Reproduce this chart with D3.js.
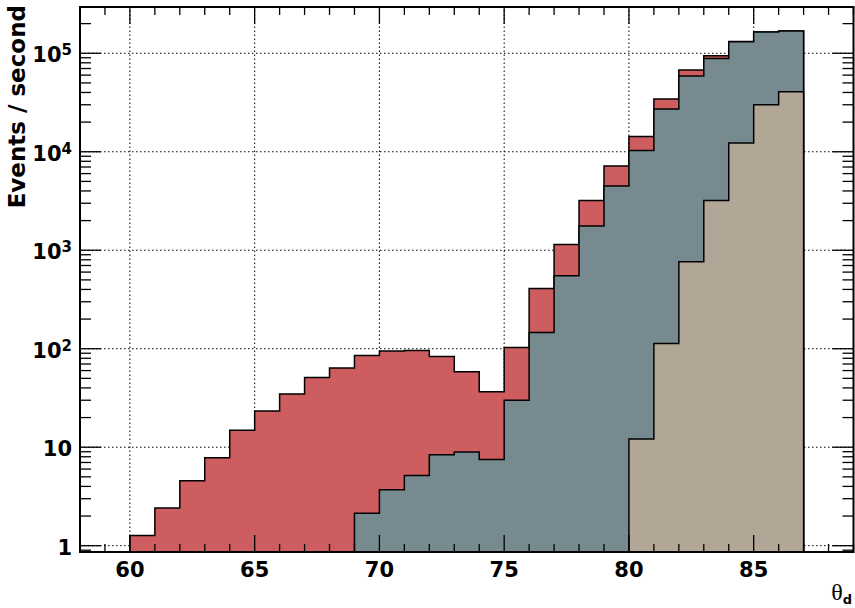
<!DOCTYPE html>
<html>
<head>
<meta charset="utf-8">
<script src="https://cdn.jsdelivr.net/npm/d3@7"></script>
<style>
  body { margin: 0; background: #fff; }
  svg { display: block; }
</style>
</head>
<body>
<div id="chart"></div>
<script>
// bin low edges (width 1 degree)
var bins = [60, 61, 62, 63, 64, 65, 66, 67, 68, 69, 70, 71, 72, 73,
            74, 75, 76, 77, 78, 79, 80, 81, 82, 83, 84, 85, 86];

// total rate (red)
var total = [1.27, 2.41, 4.57, 7.82, 14.9, 23.3, 34.7, 51.1, 63.7, 85.5,
             94.8, 96.1, 83.5, 58.4, 36.6, 103, 410, 1145, 3205, 7160,
             14300, 34300, 67500, 94400, 132000, 164000, 168000];

// middle component (grey-blue)
var middle = [null, null, null, null, null, null, null, null, null, 2.13,
              3.70, 5.17, 8.39, 8.94, 7.52, 29.9, 146, 551, 1762, 4490,
              10300, 27150, 58700, 88700, 131000, 164000, 168000];

// inner component (tan)
var inner = [null, null, null, null, null, null, null, null, null, null,
             null, null, null, null, null, null, null, null, null, null,
             12.1, 113, 764, 3200, 12250, 30000, 40700];

var xTicks = [60, 65, 70, 75, 80, 85];
var yTicks = [1, 10, 100, 1000, 10000, 100000];
var yTickLabels = [['1', ''], ['10', ''], ['10', '2'], ['10', '3'], ['10', '4'], ['10', '5']];

var w = 855, h = 608;
// note: "top" is taken by window.top, so use a prefix
var padL = 80, padR = 853.5, padT = 7, padB = 552;

var x = d3.scaleLinear().domain([58, 89]).range([padL, padR]);
var y = d3.scaleLog().domain([0.863, 2.95e5]).range([padB, padT]);

var svg = d3.select('#chart').append('svg')
  .attr('width', w).attr('height', h);

// grid (behind histograms)
var grid = svg.append('g')
  .attr('stroke', '#000')
  .attr('stroke-width', 1)
  .attr('stroke-dasharray', '1.5,2.5');

grid.selectAll('line.gx')
  .data(xTicks)
  .enter()
  .append('line')
  .attr('x1', function(d) { return x(d); })
  .attr('x2', function(d) { return x(d); })
  .attr('y1', padB)
  .attr('y2', padT);

grid.selectAll('line.gy')
  .data(yTicks)
  .enter()
  .append('line')
  .attr('x1', padL)
  .attr('x2', padR)
  .attr('y1', function(d) { return y(d); })
  .attr('y2', function(d) { return y(d); });

function histPath(values) {
  var pts = [];
  var first = null, last = null;
  values.forEach(function(v, i) {
    if (v == null) return;
    if (first === null) first = i;
    last = i;
    pts.push([x(bins[i]), y(v)]);
    pts.push([x(bins[i] + 1), y(v)]);
  });
  var p = 'M' + x(bins[first]) + ',' + padB;
  pts.forEach(function(q) { p += 'L' + q[0] + ',' + q[1]; });
  p += 'L' + x(bins[last] + 1) + ',' + padB;
  return p;
}

var hists = [
  { values: total, fill: '#cd5d5f' },
  { values: middle, fill: '#768a90' },
  { values: inner, fill: '#b2a696' }
];

svg.selectAll('path.hist')
  .data(hists)
  .enter()
  .append('path')
  .attr('class', 'hist')
  .attr('d', function(d) { return histPath(d.values); })
  .attr('fill', function(d) { return d.fill; })
  .attr('stroke', '#000')
  .attr('stroke-width', 1.5)
  .attr('stroke-linejoin', 'miter');

// ticks on all four sides
var ticks = svg.append('g').attr('stroke', '#000').attr('stroke-width', 1.3);
var xMinor = d3.range(58, 90);
xMinor.forEach(function(v) {
  var len = (v % 5 === 0) ? 17 : 8;
  ticks.append('line')
    .attr('x1', x(v)).attr('x2', x(v))
    .attr('y1', padB).attr('y2', padB - len);
  ticks.append('line')
    .attr('x1', x(v)).attr('x2', x(v))
    .attr('y1', padT).attr('y2', padT + len);
});

var yAll = [];
[0.1, 1, 10, 100, 1000, 10000, 100000].forEach(function(dec) {
  for (var k = 1; k < 10; k++) {
    var v = dec * k;
    if (v >= y.domain()[0] && v <= y.domain()[1]) yAll.push({ v: v, major: k === 1 });
  }
});
yAll.forEach(function(t) {
  var len = t.major ? 21 : 11;
  ticks.append('line')
    .attr('x1', padL).attr('x2', padL + len)
    .attr('y1', y(t.v)).attr('y2', y(t.v));
  ticks.append('line')
    .attr('x1', padR).attr('x2', padR - len)
    .attr('y1', y(t.v)).attr('y2', y(t.v));
});

// frame
svg.append('rect')
  .attr('x', padL).attr('y', padT)
  .attr('width', padR - padL).attr('height', padB - padT)
  .attr('fill', 'none')
  .attr('stroke', '#000')
  .attr('stroke-width', 2);

// x tick labels
svg.selectAll('text.xl')
  .data(xTicks)
  .enter()
  .append('text')
  .text(function(d) { return d; })
  .attr('x', function(d) { return x(d); })
  .attr('y', 577)
  .attr('text-anchor', 'middle')
  .attr('font-family', 'DejaVu Sans')
  .attr('font-weight', 'bold')
  .attr('font-size', '21px');

// y tick labels
var yl = svg.selectAll('text.yl')
  .data(yTicks)
  .enter()
  .append('text')
  .attr('x', 72)
  .attr('y', function(d) { return y(d) + 9; })
  .attr('text-anchor', 'end')
  .attr('font-family', 'DejaVu Sans')
  .attr('font-weight', 'bold')
  .attr('font-size', '21px');

yl.append('tspan')
  .text(function(d, i) { return yTickLabels[i][0]; });
yl.append('tspan')
  .text(function(d, i) { return yTickLabels[i][1]; })
  .attr('font-size', '15px')
  .attr('dy', -7);

// axis titles
svg.append('text')
  .text('Events / second')
  .attr('transform', 'translate(25,5) rotate(-90)')
  .attr('text-anchor', 'end')
  .attr('font-family', 'DejaVu Sans')
  .attr('font-weight', 'bold')
  .attr('font-size', '23px');

var xt = svg.append('text')
  .attr('x', 852)
  .attr('y', 600)
  .attr('text-anchor', 'end');
xt.append('tspan')
  .text('θ')
  .attr('font-family', 'Liberation Serif')
  .attr('font-size', '24px');
xt.append('tspan')
  .text('d')
  .attr('font-family', 'DejaVu Sans')
  .attr('font-weight', 'bold')
  .attr('font-size', '13px')
  .attr('dy', 4);
</script>
</body>
</html>
